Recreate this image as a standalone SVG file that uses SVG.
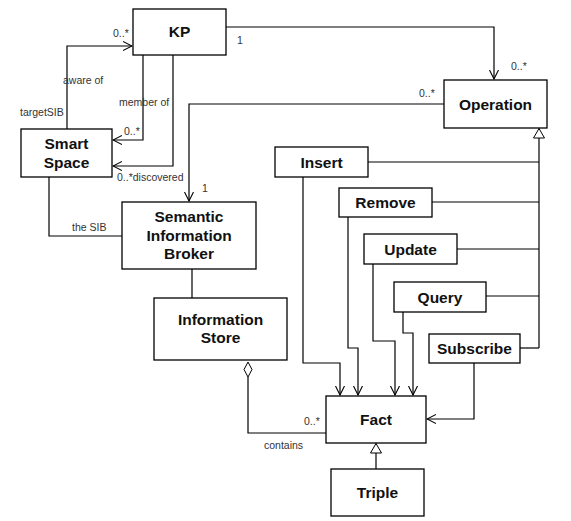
<svg xmlns="http://www.w3.org/2000/svg" width="571" height="521" viewBox="0 0 571 521">
<style>
.box{fill:#fff;stroke:#000;stroke-width:1.3}
.t{font-family:"Liberation Sans",Arial,sans-serif;font-weight:bold;font-size:15.5px;fill:#111;text-anchor:middle}
.l{font-family:"Liberation Sans",Arial,sans-serif;font-size:10.5px;fill:#333}
.c{fill:none;stroke:#000;stroke-width:1.2}
</style>
<defs>
<marker id="open" markerWidth="10" markerHeight="10" refX="9" refY="5" orient="auto" markerUnits="userSpaceOnUse">
<path d="M0,0.5 L9,5 L0,9.5" fill="none" stroke="#000" stroke-width="1.1"/>
</marker>
<marker id="gen" markerWidth="12" markerHeight="12" refX="10" refY="6" orient="auto" markerUnits="userSpaceOnUse">
<path d="M0.5,0.5 L10,6 L0.5,11.5 Z" fill="#fff" stroke="#000" stroke-width="1"/>
</marker>
</defs>
<rect width="571" height="521" fill="#fff"/>
<g id="connectors">
<path class="c" d="M67,129 V46 H132" marker-end="url(#open)"/>
<path class="c" d="M143,55 V140 H113" marker-end="url(#open)"/>
<path class="c" d="M173,55 V166 H113" marker-end="url(#open)"/>
<path class="c" d="M226,27 H494 V79" marker-end="url(#open)"/>
<path class="c" d="M444,104 H189 V201" marker-end="url(#open)"/>
<path class="c" d="M49,177 V236 H122"/>
<path class="c" d="M192,269 V298"/>
<path class="c" d="M248,377 V433 H326"/>
<path d="M248,362 L252,369.5 L248,377 L244,369.5 Z" fill="#fff" stroke="#000" stroke-width="1"/>
<path class="c" d="M376,469 V443.5" marker-end="url(#gen)"/>
<path class="c" d="M539,348 V128.5" marker-end="url(#gen)"/>
<path class="c" d="M368,162 H539"/>
<path class="c" d="M432,202 H539"/>
<path class="c" d="M457,249 H539"/>
<path class="c" d="M486,296 H539"/>
<path class="c" d="M520,348 H539"/>
<path class="c" d="M303,177 V363 H340 V395" marker-end="url(#open)"/>
<path class="c" d="M348,217 V348 H358 V395" marker-end="url(#open)"/>
<path class="c" d="M373,264 V341 H395 V395" marker-end="url(#open)"/>
<path class="c" d="M403,312 V333 H413 V395" marker-end="url(#open)"/>
<path class="c" d="M474,363 V419 H427" marker-end="url(#open)"/>
<text class="l" x="113" y="37">0..*</text>
<text class="l" x="63" y="84">aware of</text>
<text class="l" x="20" y="116">targetSIB</text>
<text class="l" x="119" y="106">member of</text>
<text class="l" x="124" y="135">0..*</text>
<text class="l" x="117" y="181">0..*discovered</text>
<text class="l" x="237" y="44">1</text>
<text class="l" x="511" y="70">0..*</text>
<text class="l" x="419" y="97">0..*</text>
<text class="l" x="202" y="192">1</text>
<text class="l" x="72" y="231">the SIB</text>
<text class="l" x="304" y="425">0..*</text>
<text class="l" x="264" y="449">contains</text>
</g>
<g id="kp"><rect class="box" x="133" y="9" width="93" height="46"/><text class="t" x="179.5" y="37">KP</text></g>
<g id="smartspace"><rect class="box" x="21" y="129" width="91" height="48"/><text class="t" x="66.5" y="148.5">Smart</text><text class="t" x="66.5" y="167.5">Space</text></g>
<g id="operation"><rect class="box" x="444" y="80" width="103" height="48"/><text class="t" x="495.5" y="109.5">Operation</text></g>
<g id="sib"><rect class="box" x="122" y="202" width="134" height="67"/><text class="t" x="189" y="221.5">Semantic</text><text class="t" x="189" y="240.5">Information</text><text class="t" x="189" y="259">Broker</text></g>
<g id="infostore"><rect class="box" x="154" y="298" width="133" height="62"/><text class="t" x="220.5" y="324.5">Information</text><text class="t" x="220.5" y="342.5">Store</text></g>
<g id="insert"><rect class="box" x="275" y="147" width="93" height="30"/><text class="t" x="321.5" y="167.5">Insert</text></g>
<g id="remove"><rect class="box" x="339" y="188" width="93" height="29"/><text class="t" x="385.5" y="207.5">Remove</text></g>
<g id="update"><rect class="box" x="364" y="234" width="93" height="30"/><text class="t" x="410.5" y="254.5">Update</text></g>
<g id="query"><rect class="box" x="394" y="282" width="92" height="30"/><text class="t" x="440" y="302.5">Query</text></g>
<g id="subscribe"><rect class="box" x="429" y="334" width="91" height="29"/><text class="t" x="474.5" y="353.5">Subscribe</text></g>
<g id="fact"><rect class="box" x="326" y="396" width="100" height="47"/><text class="t" x="376" y="424.5">Fact</text></g>
<g id="triple"><rect class="box" x="331" y="469" width="93" height="47"/><text class="t" x="377.5" y="497.5">Triple</text></g>
</svg>
